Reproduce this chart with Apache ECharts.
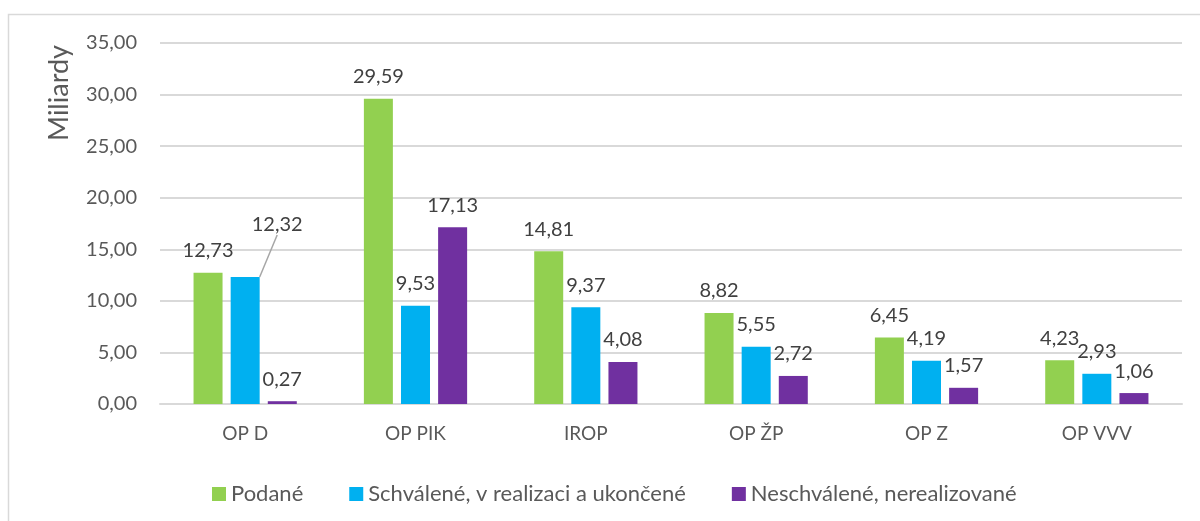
<!DOCTYPE html>
<html>
<head>
<meta charset="utf-8">
<script src="https://cdn.jsdelivr.net/npm/echarts@6/dist/echarts.min.js"></script>
<style>
html,body{margin:0;padding:0;background:#fff;}
#c{width:1200px;height:521px;}
</style>
</head>
<body>
<div id="c"></div>
<script>
var categories = ['OP D', 'OP PIK', 'IROP', 'OP ŽP', 'OP Z', 'OP VVV'];
var podane = [12.73, 29.59, 14.81, 8.82, 6.45, 4.23];
var schvalene = [12.32, 9.53, 9.37, 5.55, 4.19, 2.93];
var neschvalene = [0.27, 17.13, 4.08, 2.72, 1.57, 1.06];
var seriesNames = ['Podané', 'Schválené, v realizaci a ukončené', 'Neschválené, nerealizované'];
var colors = ['#92D050', '#00B0F0', '#7030A0'];
var yAxisTitle = 'Miliardy';

var FONT = 'Lato, "Open Sans", sans-serif';
var TXT = '#595959';

function fmt(v) { return v.toFixed(2).replace('.', ','); }

var chart = echarts.init(document.getElementById('c'), null, {renderer: 'canvas'});

var labelBase = {
  show: true, position: 'top', distance: 12,
  fontFamily: FONT, fontSize: 20, color: '#404040',
  formatter: function (p) { return fmt(p.value); }
};

var blueData = schvalene.map(function (v, i) {
  if (i === 0) {
    return { value: v, labelLine: { show: true, lineStyle: { color: '#a6a6a6', width: 1.5 } } };
  }
  return v;
});

chart.setOption({
  animation: false,
  color: colors,
  graphic: [{
    type: 'rect', shape: { x: 8.5, y: 14.5, width: 1300, height: 600 },
    style: { fill: 'none', stroke: '#d9d9d9', lineWidth: 1.5 }, silent: true, z: -1
  }, {
    type: 'text', x: 59, y: 93, rotation: Math.PI / 2,
    style: { text: yAxisTitle, font: '27px ' + FONT, fill: TXT, align: 'center', verticalAlign: 'middle' }
  }],
  grid: { left: 160, right: 18, top: 43, bottom: 117 },
  legend: {
    top: 478, left: 207, itemWidth: 14, itemHeight: 14, itemGap: 46,
    icon: 'rect',
    textStyle: { fontFamily: FONT, fontSize: 22, color: TXT },
    data: seriesNames
  },
  xAxis: {
    type: 'category', data: categories,
    axisLine: { lineStyle: { color: '#d9d9d9', width: 2 } },
    axisTick: { show: false },
    axisLabel: { fontFamily: FONT, fontSize: 19, color: TXT, margin: 20 }
  },
  yAxis: {
    type: 'value', min: 0, max: 35, interval: 5,
    axisLine: { show: false }, axisTick: { show: false },
    axisLabel: { fontFamily: FONT, fontSize: 20, color: TXT, margin: 23, formatter: function (v) { return fmt(v); } },
    splitLine: { lineStyle: { color: '#d9d9d9', width: 2 } }
  },
  series: [
    { name: seriesNames[0], type: 'bar', data: podane, barWidth: 29, barGap: '28%', label: labelBase },
    { name: seriesNames[1], type: 'bar', data: blueData, barWidth: 29, barGap: '28%', label: labelBase,
      labelLayout: function (p) { if (p.dataIndex === 0) { return { dx: 32, dy: -30 }; } return {}; } },
    { name: seriesNames[2], type: 'bar', data: neschvalene, barWidth: 29, barGap: '28%', label: labelBase }
  ]
});
</script>
</body>
</html>
